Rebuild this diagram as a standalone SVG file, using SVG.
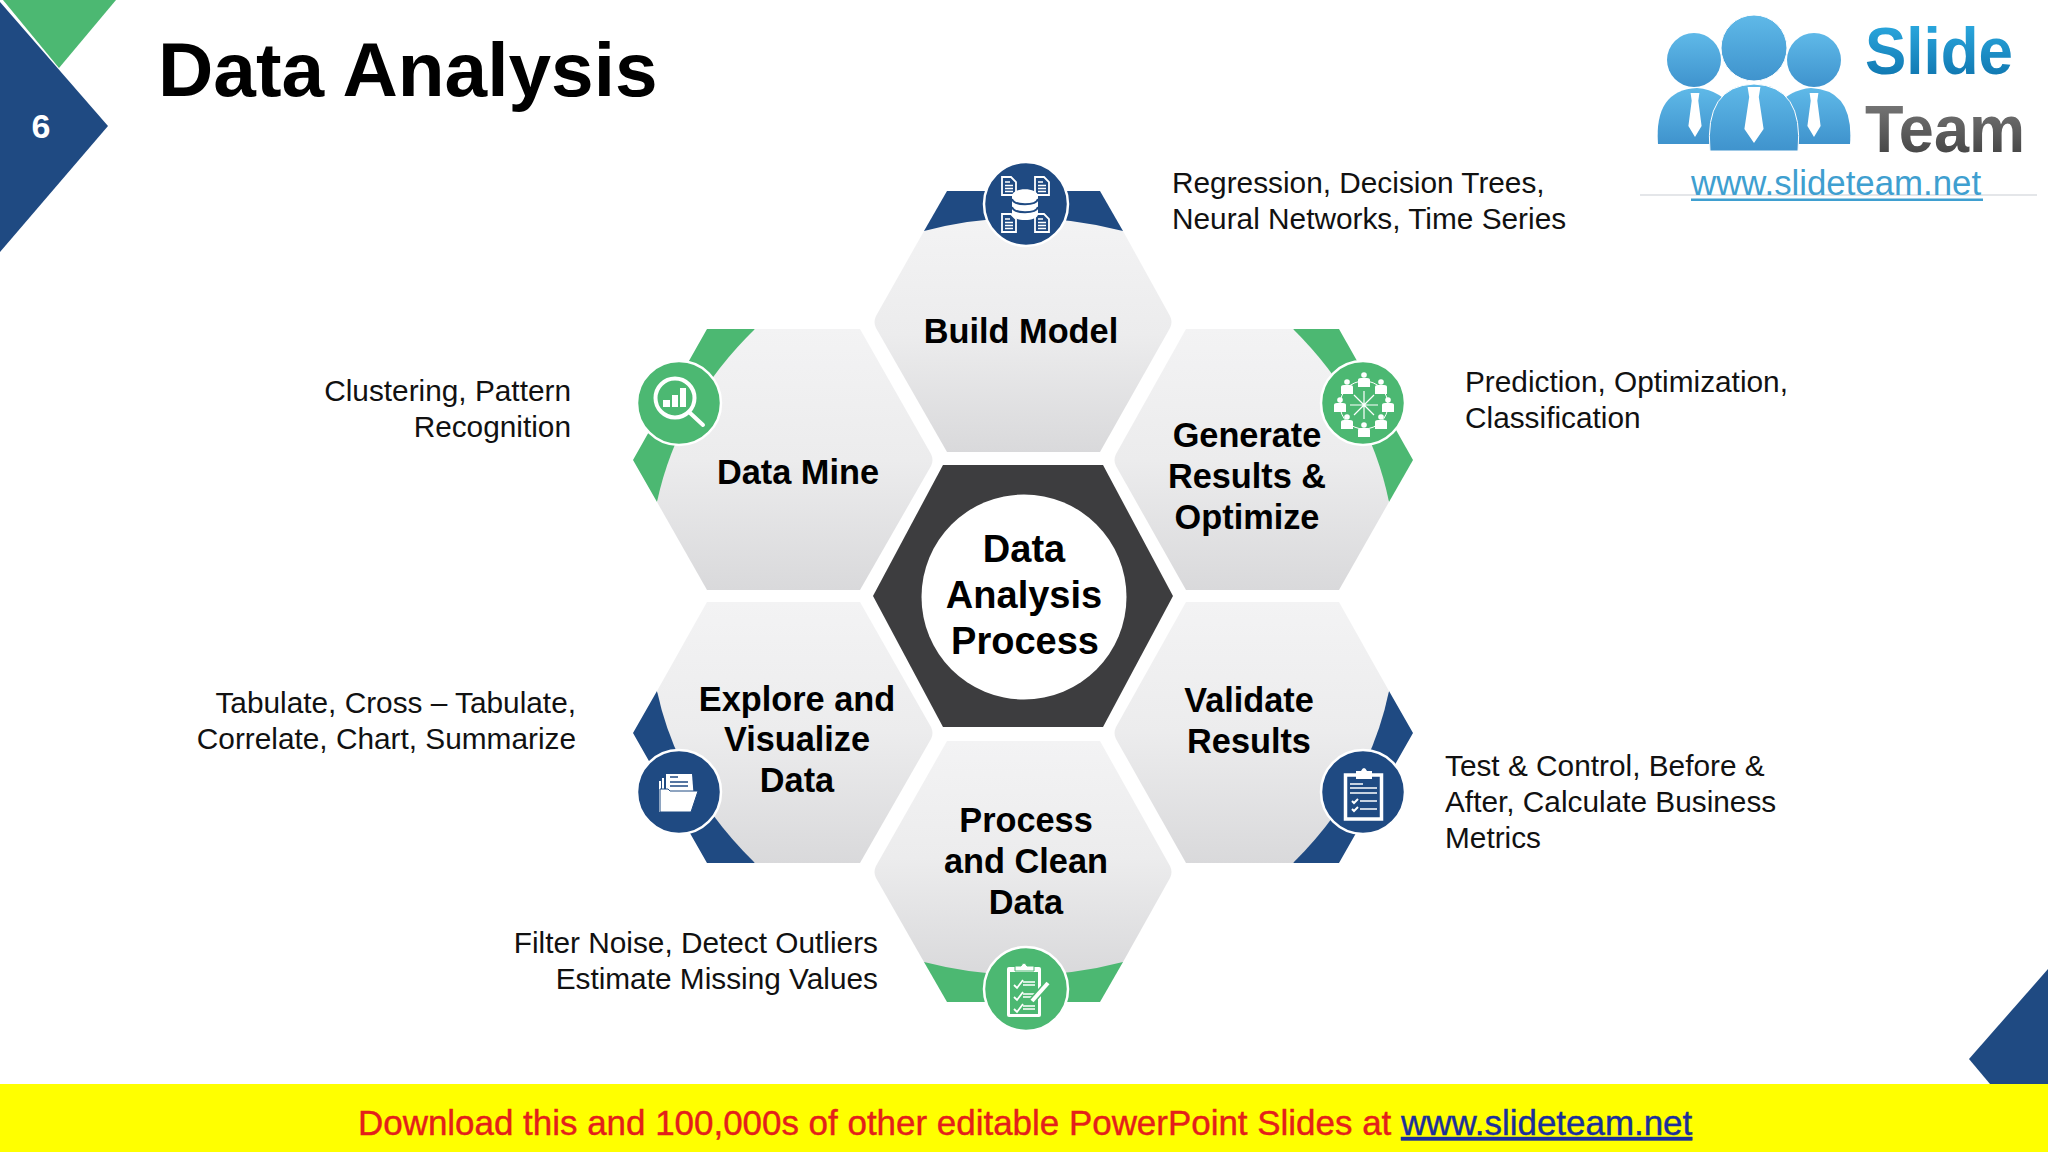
<svg xmlns="http://www.w3.org/2000/svg" xmlns:xlink="http://www.w3.org/1999/xlink" width="2048" height="1152" viewBox="0 0 2048 1152">
<style>
text{font-family:"Liberation Sans",Arial,sans-serif}
.lab{font-size:34.300px;font-weight:700;fill:#000;text-anchor:middle}
.ctr{font-size:38px;font-weight:700;fill:#000;text-anchor:middle}
.note{font-size:29.800px;fill:#111}
.end{text-anchor:end}
.hex{fill:url(#gray)}
.blue{fill:#1f4a82}
.green{fill:#4cb872}
.ring{stroke:#fff;stroke-width:2.500}
.w{fill:#fff}
.wl{fill:none;stroke:#fff;stroke-linecap:round}
</style>
<defs>
<linearGradient id="gray" x1="0" y1="0" x2="0" y2="1"><stop offset="0" stop-color="#f3f3f4"/><stop offset="0.5" stop-color="#ececed"/><stop offset="1" stop-color="#d9d9db"/></linearGradient>
<linearGradient id="sky" x1="0" y1="0" x2="0" y2="1"><stop offset="0" stop-color="#5fb9e8"/><stop offset="1" stop-color="#3f93cd"/></linearGradient>
<linearGradient id="slide" x1="0" y1="0" x2="0" y2="1"><stop offset="0" stop-color="#2fb0e6"/><stop offset="1" stop-color="#0b6ea8"/></linearGradient>
<linearGradient id="team" x1="0" y1="0" x2="0" y2="1"><stop offset="0" stop-color="#808080"/><stop offset="1" stop-color="#3c3c3c"/></linearGradient>
<g id="doc"><path d="M0,0H9L14,5V18H0Z" fill="none" stroke="#fff" stroke-width="1.800"/><path d="M3,5H8M3,8.500H11M3,11.500H11M3,14.500H11" stroke="#fff" stroke-width="1.400" fill="none"/></g>
<g id="person"><circle cx="0" cy="-5" r="2.800" class="w"/><path d="M-6,7V0Q-6,-2 -3,-2H3Q6,-2 6,0V7Z" class="w"/></g>
<path id="tie" d="M-4,0H4L3,5L6,21L0,28L-6,21L-3,5Z" class="w"/>
</defs>

<rect width="2048" height="1152" fill="#fff"/>

<g id="corner-top-left">
<polygon points="3,0 116,0 59,68" class="green"/>
<polygon points="0,2 108,126 0,252" class="blue"/>
<text x="41" y="138" font-size="34" font-weight="700" fill="#fff" text-anchor="middle">6</text>
</g>
<text id="title" x="158" y="96" font-size="76.600" font-weight="700" fill="#000">Data Analysis</text>

<g id="logo">
<path d="M1658,144Q1654,90 1697,88Q1722,90 1735,112V144Z" fill="url(#sky)"/>
<path d="M1850,144Q1854,90 1811,88Q1786,90 1773,112V144Z" fill="url(#sky)"/>
<circle cx="1694" cy="60" r="27" fill="url(#sky)"/>
<circle cx="1814" cy="60" r="27" fill="url(#sky)"/>
<circle cx="1754" cy="48" r="33" fill="url(#sky)" stroke="#fff" stroke-width="1"/>
<path d="M1710,151Q1704,86 1754,84Q1804,86 1798,151Z" fill="url(#sky)" stroke="#fff" stroke-width="1"/>
<use href="#tie" transform="translate(1695,93) scale(1.100,1.570)" />
<use href="#tie" transform="translate(1754,87) scale(1.600,2)" />
<use href="#tie" transform="translate(1814,93) scale(1.100,1.570)" />
<text x="1865" y="74" font-size="66" font-weight="700" fill="url(#slide)" textLength="148" lengthAdjust="spacingAndGlyphs">Slide</text>
<text x="1865" y="152" font-size="66" font-weight="700" fill="url(#team)" textLength="160" lengthAdjust="spacingAndGlyphs">Team</text>
<rect x="1640" y="194.500" width="397" height="1" fill="#c9ced4"/>
<text x="1691" y="195" font-size="34.800" fill="#3f9fd0">www.slideteam.net</text>
<rect x="1691" y="198.500" width="292" height="2.500" fill="#3f9fd0"/>
</g>

<g id="connectors"></g>

<g id="node-build-model">
<path d="M947,191L1100,191L1123,231L1023,240L924,231Z" class="blue"/>
<path class="hex" d="M924,231Q1023.500,205 1123,231L1170,316Q1173,322 1170,328L1100,452L947,452L876,328Q873,322 876,316Z"/>
<circle cx="1026" cy="204" r="42" class="blue ring"/>
<use href="#doc" x="1002" y="177"/><use href="#doc" x="1035" y="177"/><use href="#doc" x="1002" y="214"/><use href="#doc" x="1035" y="214"/>
<path class="w" d="M1012,196C1012,187 1038,187 1038,196V214C1038,222 1012,222 1012,214Z"/>
<path d="M1012,199C1014,206 1036,206 1038,199M1012,207C1014,214 1036,214 1038,207" fill="none" stroke="#1f4a82" stroke-width="2"/>
<text class="lab" x="1021" y="343">Build Model</text>
</g>

<g id="node-data-mine">
<path d="M707,329L755,329L700,420L657,502L633,460Z" class="green"/>
<path class="hex" d="M755,329L860,329L931,454Q934,460 931,466L860,590L707,590L657,502Q678,404 755,329Z"/>
<circle cx="679" cy="403" r="42" class="green ring"/>
<circle cx="675" cy="398" r="19.500" class="wl" stroke-width="4"/>
<path d="M689,412L703,425" class="wl" stroke-width="4"/>
<path d="M663,400h7v7h-7zM672,395h6v12h-6zM680,388h6v19h-6z" class="w"/>
<text class="lab" x="798" y="484">Data Mine</text>
</g>

<g id="node-generate-results">
<path d="M1293,329L1339,329L1413,460L1389,502L1340,420Z" class="green"/>
<path class="hex" d="M1186,329L1293,329Q1369,404 1389,502L1339,590L1186,590L1116,466Q1113,460 1116,454Z"/>
<circle cx="1363" cy="403" r="42" class="green ring"/>
<circle cx="1364" cy="405" r="24" fill="none" stroke="#fff" stroke-width="1"/>
<path d="M1364,391V419M1350,405H1378M1354,395L1374,415M1374,395L1354,415" stroke="#fff" stroke-width="1.200"/>
<use href="#person" x="1364" y="380"/><use href="#person" x="1381" y="387"/><use href="#person" x="1388" y="405"/><use href="#person" x="1381" y="422"/>
<use href="#person" x="1364" y="430"/><use href="#person" x="1347" y="422"/><use href="#person" x="1340" y="405"/><use href="#person" x="1347" y="387"/>
<text class="lab"><tspan x="1247" y="447">Generate</tspan><tspan x="1247" y="488">Results &amp;</tspan><tspan x="1247" y="529">Optimize</tspan></text>
</g>

<g id="node-validate-results">
<path d="M1389,691L1413,733L1339,863L1293,863L1340,780Z" class="blue"/>
<path class="hex" d="M1186,602L1339,602L1389,691Q1369,788 1293,863L1186,863L1116,739Q1113,733 1116,727Z"/>
<circle cx="1363" cy="792" r="42" class="blue ring"/>
<rect x="1345.500" y="775" width="36" height="44" fill="none" stroke="#fff" stroke-width="3.500"/>
<path d="M1356,779V771H1361Q1364,765 1367,771H1372V779Z" class="w"/>
<path d="M1350,784H1363M1350,788H1377M1350,793H1377" stroke="#fff" stroke-width="1.500"/>
<path d="M1352,801l2,2l4,-4M1352,809l2,2l4,-4" fill="none" stroke="#fff" stroke-width="2"/>
<path d="M1360,801H1377M1360,809H1377" stroke="#fff" stroke-width="1.500"/>
<text class="lab"><tspan x="1249" y="712">Validate</tspan><tspan x="1249" y="753">Results</tspan></text>
</g>

<g id="node-process-clean">
<path d="M924,962L1023,950L1123,962L1100,1002L947,1002Z" class="green"/>
<path class="hex" d="M947,741L1100,741L1170,866Q1173,872 1170,878L1123,962Q1023.500,988 924,962L876,878Q873,872 876,866Z"/>
<circle cx="1026" cy="989" r="42" class="green ring"/>
<rect x="1007" y="967" width="34" height="50" rx="2" class="w"/>
<rect x="1010" y="972" width="28" height="42" class="green"/>
<path d="M1015,971V966H1021Q1024,960 1027,966H1034V971Z" class="w" stroke="#4cb872" stroke-width="1"/>
<path d="M1014,985l3,3l6,-8M1014,997l3,3l6,-8M1014,1009l3,3l6,-8" fill="none" stroke="#fff" stroke-width="1.800"/>
<path d="M1023,982H1035M1023,985H1035M1023,994H1035M1023,997H1035M1023,1006H1035M1023,1009H1035" stroke="#fff" stroke-width="1.500"/>
<path d="M1032,1001L1048,983" stroke="#4cb872" stroke-width="7"/><path d="M1032,1001L1048,983" stroke="#fff" stroke-width="4"/>
<text class="lab"><tspan x="1026" y="832">Process</tspan><tspan x="1026" y="873">and Clean</tspan><tspan x="1026" y="914">Data</tspan></text>
</g>

<g id="node-explore">
<path d="M657,691L633,733L707,863L755,863L700,780Z" class="blue"/>
<path class="hex" d="M707,602L860,602L931,727Q934,733 931,739L860,863L755,863Q678,788 657,691Z"/>
<circle cx="679" cy="792" r="42" class="blue ring"/>
<path d="M659,812V781H661V812ZM662,812V778H664V812Z" class="w"/>
<path class="w" d="M666,774H692L694,800H666Z"/>
<path d="M670,777H678M670,782H688M670,786H688" stroke="#1f4a82" stroke-width="1.500"/>
<path class="w" stroke="#1f4a82" stroke-width="1" d="M660,812V789H668L670,791H698L691,812Z"/>
<text class="lab"><tspan x="797" y="711">Explore and</tspan><tspan x="797" y="751">Visualize</tspan><tspan x="797" y="792">Data</tspan></text>
</g>

<g id="node-center">
<polygon points="943,465 1103,465 1173,596 1103,727 943,727 873,596" fill="#3d3d3f"/>
<circle cx="1024" cy="597" r="102.500" fill="#fff"/>
<text class="ctr"><tspan x="1024" y="562">Data</tspan><tspan x="1024" y="608">Analysis</tspan><tspan x="1025" y="654">Process</tspan></text>
</g>

<g id="notes">
<text class="note"><tspan x="1172" y="193">Regression, Decision Trees,</tspan><tspan x="1172" y="229">Neural Networks, Time Series</tspan></text>
<text class="note"><tspan x="1465" y="392">Prediction, Optimization,</tspan><tspan x="1465" y="428">Classification</tspan></text>
<text class="note"><tspan x="1445" y="776">Test &amp; Control, Before &amp;</tspan><tspan x="1445" y="812">After, Calculate Business</tspan><tspan x="1445" y="848">Metrics</tspan></text>
<text class="note end"><tspan x="571" y="401">Clustering, Pattern</tspan><tspan x="571" y="437">Recognition</tspan></text>
<text class="note end"><tspan x="576" y="713">Tabulate, Cross – Tabulate,</tspan><tspan x="576" y="749">Correlate, Chart, Summarize</tspan></text>
<text class="note end"><tspan x="878" y="953">Filter Noise, Detect Outliers</tspan><tspan x="878" y="989">Estimate Missing Values</tspan></text>
</g>

<polygon id="corner-bottom-right" points="2048,969 1969,1059 1990,1084 2048,1084" class="blue"/>
<g id="footer">
<rect x="0" y="1084" width="2048" height="68" fill="#ffff00"/>
<text x="358" y="1135" font-size="34.950" fill="#e3201b" stroke="#e3201b" stroke-width=".4">Download this and 100,000s of other editable PowerPoint Slides at <tspan fill="#1c2f9a" stroke="#1c2f9a" text-decoration="underline">www.slideteam.net</tspan></text>
</g>
</svg>
